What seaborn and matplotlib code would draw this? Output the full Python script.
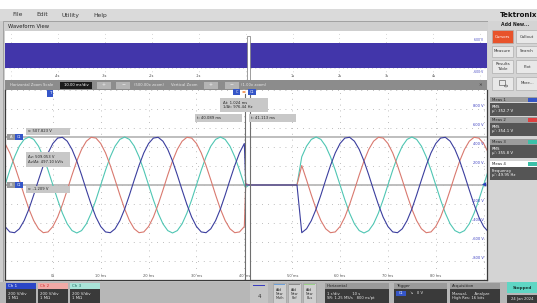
import pandas as pd
import matplotlib
matplotlib.use("Agg")
import matplotlib.pyplot as plt
from matplotlib.patches import Rectangle, Circle
import seaborn as sns

# waveform samples (time in ms, volts)
time_ms = list(range(-10, 41)) + [40.3] + list(range(41, 52)) + list(range(52, 92))

ch1_v = [-437,
         -494, -502, -461, -375, -253, -105, 53, 205, 338,
         437, 494, 502, 461, 375, 253, 105, -53, -205, -338,
         -437, -494, -502, -461, -375, -253, -105, 53, 205, 338,
         437, 494, 502, 461, 375, 253, 105, -53, -205, -338,
         -437, -494, -502, -461, -375, -253, -105, 53, 205, 338,
         437,
         0,
         0, 0, 0, 0, 0, 0, 0, 0, 0, 0, 0,
         -502, -461, -375, -253, -105, 53, 205, 338,
         437, 494, 502, 461, 375, 253, 105, -53, -205, -338,
         -437, -494, -502, -461, -375, -253, -105, 53, 205, 338,
         437, 494, 502, 461, 375, 253, 105, -53, -205, -338,
         -437, -494]

ch2_v = [437,
         338, 205, 53, -105, -253, -375, -461, -502, -494,
         -437, -338, -205, -53, 105, 253, 375, 461, 502, 494,
         437, 338, 205, 53, -105, -253, -375, -461, -502, -494,
         -437, -338, -205, -53, 105, 253, 375, 461, 502, 494,
         437, 338, 205, 53, -105, -253, -375, -461, -502, -494,
         -437,
         15,
         0, 0, 0, 0, 0, 0, 0, 0, 0, 0, 0,
         205, 53, -105, -253, -375, -461, -502, -494,
         -437, -338, -205, -53, 105, 253, 375, 461, 502, 494,
         437, 338, 205, 53, -105, -253, -375, -461, -502, -494,
         -437, -338, -205, -53, 105, 253, 375, 461, 502, 494,
         437, 338]

ch3_v = [0,
         156, 297, 409, 480, 505, 480, 409, 297, 156,
         0, -156, -297, -409, -480, -505, -480, -409, -297, -156,
         0, 156, 297, 409, 480, 505, 480, 409, 297, 156,
         0, -156, -297, -409, -480, -505, -480, -409, -297, -156,
         0, 156, 297, 409, 480, 505, 480, 409, 297, 156,
         0,
         -25,
         0, 0, 0, 0, 0, 0, 0, 0, 0, 0, 0,
         297, 409, 480, 505, 480, 409, 297, 156,
         0, -156, -297, -409, -480, -505, -480, -409, -297, -156,
         0, 156, 297, 409, 480, 505, 480, 409, 297, 156,
         0, -156, -297, -409, -480, -505, -480, -409, -297, -156,
         0, 156]

time_ticks = [0, 10, 20, 30, 40, 50, 60, 70, 80]
time_labels = ["0s", "10 ms", "20 ms", "30 ms", "40 ms", "50 ms", "60 ms", "70 ms", "80 ms"]
volt_ticks = [800, 600, 400, 200, -200, -400, -600, -800]
overview_ticks = [-4, -3, -2, -1, 1, 2, 3, 4]

cursor_t = [40.089, 41.113]
cursor_v = [507.823, -1.209]

meas_names = ["Meas 1", "Meas 2", "Meas 3", "Meas 4"]
meas_kind = ["RMS", "RMS", "RMS", "Frequency"]
meas_vals = ["\u03bc': 352.7 V", "\u03bc': 354.1 V", "\u03bc': 355.8 V", "\u03bc': 49.95 Hz"]

colors = {"Ch 1": "#3b3e9e", "Ch 2": "#d9796f", "Ch 3": "#4fc6b3"}

df = pd.DataFrame({"t": time_ms * 3,
                   "v": ch1_v + ch2_v + ch3_v,
                   "ch": ["Ch 1"] * len(time_ms) + ["Ch 2"] * len(time_ms) + ["Ch 3"] * len(time_ms)})

sns.set_style("white")
plt.rcParams["font.family"] = ["DejaVu Sans"]

W, H = 537, 303
fig = plt.figure(figsize=(W / 100, H / 100), dpi=100, facecolor="#cdcdcd")


def rect(x, y, w, h, fc, ec="none", lw=0.5, z=-1):
    fig.add_artist(Rectangle((x / W, 1 - (y + h) / H), w / W, h / H, transform=fig.transFigure,
                             fc=fc, ec=ec, lw=lw, zorder=z))


def label(x, y, s, size=3.2, color="#222222", ha="left", weight="normal", z=5):
    fig.text(x / W, 1 - y / H, s, fontsize=size, color=color, ha=ha, va="center",
             fontweight=weight, zorder=z, linespacing=1.15)


# window chrome
rect(0, 0, W, 9, "#ffffff")
rect(0, 9, W, 12, "#dadada")
for x, s in zip([12, 36, 62, 93], ["File", "Edit", "Utility", "Help"]):
    label(x, 15, s, size=4.3, color="#333333")
rect(3, 21, 485, 261, "#cfcfcf", ec="#8f8f8f")
label(8, 26.5, "Waveform View", size=3.8, color="#222222")

# overview strip
ax0 = fig.add_axes([5 / W, 1 - 80 / H, 482 / W, 49 / H])
ax0.set_facecolor("white")
ax0.axhspan(12, 37, color="#4236aa", lw=0)
ax0.set_xlim(-5.12, 5.14)
ax0.set_ylim(0, 49)
ax0.set_xticks(range(-5, 6))
ax0.set_yticks([12, 24.5, 37])
ax0.grid(True, color="#b0b0b0", lw=0.5, ls=(0, (1, 5)))
ax0.tick_params(length=0, labelbottom=False, labelleft=False)
for s in ax0.spines.values():
    s.set_visible(False)
for t in overview_ticks:
    ax0.text(t, 4, f"{t}s", fontsize=2.6, color="#555555", ha="center", va="center")
ax0.text(5.05, 40, "600 V", fontsize=2.2, color="#3b3ec0", ha="right", va="center")
ax0.text(5.05, 8, "-600 V", fontsize=2.2, color="#3b3ec0", ha="right", va="center")
ax0.add_patch(Rectangle((0.03, 0), 0.07, 44, fc="white", ec="#777777", lw=0.5, zorder=5))

# zoom bar
rect(5, 80, 482, 10, "#8c8c8c")
label(10, 85, "Horizontal Zoom Scale", size=2.7, color="#e8e8e8")
rect(60, 81.5, 32, 7, "#1c1c1c", z=2)
label(76, 85, "10.00 ms/div", size=2.7, color="white", ha="center")
for x in [97, 116, 204, 225]:
    rect(x, 81.5, 14, 7, "#b4b4b4", z=2)
for x, s in zip([104, 123, 211, 232], ["+", "\u2212", "+", "\u2212"]):
    label(x, 85, s, size=3.4, color="#eeeeee", ha="center")
label(134, 85, "(500.00x zoom)", size=2.7, color="#e8e8e8")
label(171, 85, "Vertical Zoom", size=2.7, color="#e8e8e8")
label(241, 85, "(1.00x zoom)", size=2.7, color="#e8e8e8")
label(480, 85, "\u2715", size=3.2, color="#333333", ha="center")

# main waveform area
ax = fig.add_axes([5 / W, 1 - 280 / H, 482 / W, 190 / H])
ax.set_facecolor("white")
sns.lineplot(data=df, x="t", y="v", hue="ch", hue_order=["Ch 3", "Ch 2", "Ch 1"],
             palette=colors, lw=0.8, legend=False, ax=ax, sort=False)
ax.set_xlim(-9.3, 90.7)
ax.set_ylim(-1000, 1000)
ax.set_xticks(range(-10, 100, 10))
ax.set_yticks(range(-1000, 1001, 200))
ax.grid(True, color="#a8a8a8", lw=0.6, ls=(0, (1, 6)))
ax.tick_params(length=0, labelbottom=False, labelleft=False)
ax.set_xlabel("")
ax.set_ylabel("")
for s in ax.spines.values():
    s.set_color("#3a3a3a")
    s.set_linewidth(0.9)
ax.spines["top"].set_visible(False)

for t, s in zip(time_ticks, time_labels):
    ax.text(t, -960, s, fontsize=2.6, color="#555555", ha="center", va="center")
for v in volt_ticks:
    ax.text(90.0, v + 35, f"{v} V", fontsize=2.6, color="#3b3ec0", ha="right", va="center")
ax.text(90.6, 0, "\u25c0", fontsize=4, color="#2b3fb8", ha="right", va="center")

for v in cursor_v:
    ax.axhline(v, color="#b9b9b9", lw=1.3, zorder=1)
for t in cursor_t:
    ax.axvline(t, color="#6f6f6f", lw=0.8, zorder=3)

# cursor readouts and markers
rect(47, 90, 6, 7, "#3556c8", z=4)
label(50, 93.5, "T", size=3, color="white", ha="center")
rect(233, 89, 7, 6, "#3556c8", z=4)
fig.add_artist(Circle((244 / W, 1 - 92 / H), 2.6 / W, transform=fig.transFigure,
                      fc="#f07a2a", zorder=4))
rect(248, 89, 8, 6, "#3556c8", z=4)
label(236.5, 92, "C", size=2.4, color="white", ha="center", z=6)
label(252, 92, "C1", size=2.4, color="white", ha="center", z=6)

rect(220, 98, 48, 14, "#c8c8c8", z=4)
label(223, 105, "\u0394t: 1.024 ms\n1/\u0394t: 976.44 Hz", size=2.7)
rect(195, 114, 47, 8, "#c8c8c8", z=4)
label(197, 118, "t: 40.089 ms", size=2.7)
rect(249, 114, 47, 8, "#c8c8c8", z=4)
label(251, 118, "t: 41.113 ms", size=2.7)

for y, tag in [(137, "A"), (185, "B")]:
    rect(7, y - 3, 8, 6, "#9a9a9a", z=4)
    label(11, y, tag, size=2.6, color="white", ha="center")
    rect(15, y - 3, 8, 6, "#3556c8", z=4)
    label(19, y, "C1", size=2.4, color="white", ha="center")
rect(26, 128, 44, 7, "#c8c8c8", z=4)
label(28, 131.5, "v: 507.823 V", size=2.7)
rect(26, 152, 44, 15, "#c8c8c8", z=4)
label(28, 159.5, "\u0394v: 509.053 V\n\u0394v/\u0394t: 497.10 kV/s", size=2.7)
rect(26, 186, 44, 7, "#c8c8c8", z=4)
label(28, 189.5, "v: -1.209 V", size=2.7)

# right side panel
rect(488, 21, 49, 261, "#d4d4d4")
label(537, 15, "Tektronix", size=5, color="#111111", ha="right", weight="bold")
label(515, 25, "Add New...", size=3.3, color="#222222", ha="center", weight="bold")
buttons = [("Cursors", "Callout", 30, 13), ("Measure", "Search", 46, 11),
           ("Results\nTable", "Plot", 60, 13), ("", "More...", 77, 13)]
for left, right, y, h in buttons:
    rect(492, y, 21, h, "#e8532b" if left == "Cursors" else "#e8e8e8", ec="#b0b0b0", z=2)
    rect(516, y, 22, h, "#e8e8e8", ec="#b0b0b0", z=2)
    label(502.5, y + h / 2, left, size=2.9, color="white" if left == "Cursors" else "#333333", ha="center")
    label(527, y + h / 2, right, size=2.9, color="#333333", ha="center")
# small zoom-glass icon on the blank button
rect(499, 80, 6, 5, "none", ec="#666666", lw=0.5, z=3)
fig.add_artist(Circle((506 / W, 1 - 86 / H), 1.6 / W, transform=fig.transFigure,
                      fc="none", ec="#666666", lw=0.5, zorder=3))

meas_top = [97, 117, 139, 161]
pill = ["#3556c8", "#e04040", "#3cc0a8", "#3cc0a8"]
for i, y in enumerate(meas_top):
    rect(490, y, 47, 5.5, "white" if i == 3 else "#9c9c9c", z=2)
    label(492, y + 2.8, meas_names[i], size=2.8, color="#222222")
    rect(528, y + 1, 9, 3.5, pill[i], z=3)
    rect(490, y + 5.5, 47, 13, "#555555", z=2)
    label(492, y + 12, meas_kind[i] + "\n" + meas_vals[i], size=2.8, color="white")

# bottom status bar
rect(0, 282, W, 21, "#b7b7b7")
ch_cols = [("Ch 1", "#2b46c6", "white"), ("Ch 2", "#f1a9a6", "#d03030"), ("Ch 3", "#a9e4d8", "#1c6e60")]
for i, (name, head, tc) in enumerate(ch_cols):
    x = 6 + i * 32
    rect(x, 283, 30, 6, head, z=2)
    label(x + 2, 286, name, size=2.9, color=tc)
    rect(x, 289, 30, 14, "#3a3a3a", z=2)
    label(x + 2, 296, "200 V/div\n1 M\u03a9", size=2.8, color="#e8e8e8")

rect(250, 283, 18, 20, "#c4c4c4", z=2)
rect(253, 285, 12, 1, "#3b3ec0", z=3)
label(259, 296, "4", size=4, color="#333333", ha="center")
for x, bar, s in [(273, "#6ea0d8", "Math"), (288, "#8a8a8a", "Ref"), (303, "#9ad08a", "Bus")]:
    rect(x, 283, 13, 20, "#cfcfcf", ec="#a0a0a0", z=2)
    rect(x + 1, 284, 11, 1, bar, z=3)
    label(x + 6.5, 294, "Add\nNew\n" + s, size=2.4, color="#333333", ha="center")

panels = [(325, 64, "Horizontal", "1 s/div          10 s\nSR: 1.25 MS/s   800 ns/pt"),
          (394, 53, "Trigger", ""),
          (450, 50, "Acquisition", "Manual,      Analyze\nHigh Res: 16 bits")]
for x, w, head, body in panels:
    rect(x, 283, w, 6, "#9a9a9a", z=2)
    label(x + 2, 286, head, size=2.9, color="#222222")
    rect(x, 289, w, 14, "#3a3a3a", z=2)
    label(x + 2, 296, body, size=2.7, color="#e8e8e8")
rect(396, 290.5, 10, 5, "#3556c8", z=3)
label(401, 293, "C1", size=2.4, color="white", ha="center", z=6)
label(410, 293, "\u2198   0 V", size=2.7, color="#e8e8e8")

rect(507, 282, 30, 11, "#5fd6c4", z=2)
label(522, 287.5, "Stopped", size=3, color="#1a3a36", ha="center", weight="bold")
rect(507, 295, 30, 8, "#3a3a3a", z=2)
label(522, 299, "24 Jan 2024", size=2.7, color="#e8e8e8", ha="center")

fig.savefig("out.png", dpi=100, facecolor=fig.get_facecolor())
